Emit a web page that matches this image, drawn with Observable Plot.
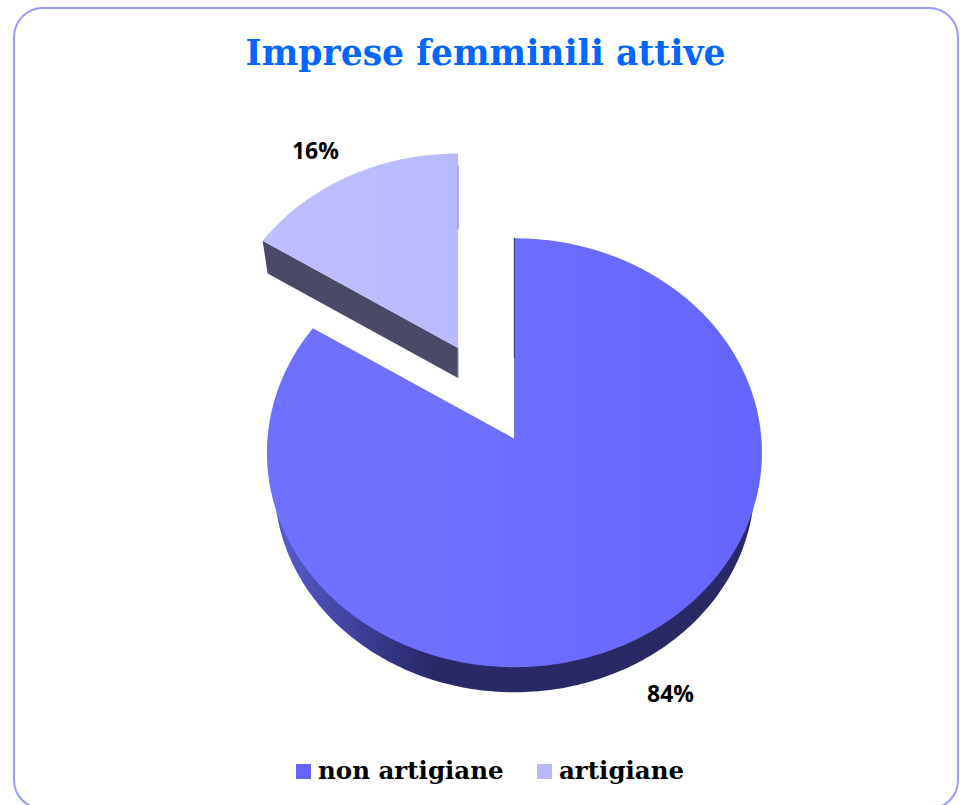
<!DOCTYPE html>
<html>
<head>
<meta charset="utf-8">
<script src="https://cdn.jsdelivr.net/npm/d3@7"></script>
<script src="https://cdn.jsdelivr.net/npm/@observablehq/plot@0.6"></script>
<style>
  html, body { margin: 0; padding: 0; background: #fff; overflow: hidden; width: 964px; height: 805px; }
  #frame { position: absolute; left: 13px; top: 7px; width: 946px; height: 803px; box-sizing: border-box;
           border: 2px solid #9999ff; border-radius: 30px; background: #fff; }
  #title { position: absolute; left: 0; right: 0; top: 22px; text-align: center; color: #0066ff;
           font: bold 34.6px "DejaVu Serif", serif; line-height: 44px; margin: 0; padding-right: 1px; white-space: nowrap; }
  #chart { position: absolute; left: -2px; top: 81px; }
  #legend { position: absolute; left: 0; right: 0; top: 747px; height: 30px; color: #000;
            font: bold 24.5px "DejaVu Serif", serif; white-space: nowrap; }
  #legend span { position: absolute; top: 0; line-height: 30px; }
  #legend i { position: absolute; width: 15px; height: 15px; top: 8px; }
</style>
</head>
<body>
<div id="frame">
  <h1 id="title">Imprese femminili attive</h1>
  <div id="chart"></div>
  <div id="legend"></div>
</div>
<script>
const categories = ["non artigiane", "artigiane"];
const shares = [84, 16];
const labels = ["84%", "16%"];
const colors = ["#6666ff", "#b8b8ff"];

const W = 946, H = 660;
const RX = 247.5, RY = 214, K = 0.0651;     // disc radii (px) and perspective strength
const CX = 502, CY = 349;                   // pie centre inside the SVG (px)
const xDomain = [-CX / RX, (W - CX) / RX];
const yDomain = [-CY / RY, (H - CY) / RY];

// project a disc point: angle clockwise from 12 o'clock, r in radii, (ox,oy) disc offset, q disc scale
function project(turn, r, ox, oy, q) {
  const t = turn * 2 * Math.PI, s = Math.sin(t) * r, c = -Math.cos(t) * r;
  const d = 1 - K * c;
  return { x: ox + q * s / d, y: oy + q * c / d };
}
function sector(from, to, ox, oy, q) {
  const pts = [project(0, 0, ox, oy, q)];
  const n = Math.ceil((to - from) * 360);
  for (let i = 0; i <= n; i++) pts.push(project(from + (to - from) * i / n, 1, ox, oy, q));
  pts.push(project(0, 0, ox, oy, q));
  return pts;
}

const mainShare = shares[0] / 100, wedgeShare = shares[1] / 100;
// The big slice runs clockwise from 12 o'clock, the small one closes the circle.
const mainTop = sector(0, mainShare, 0, 0, 1);
const mainBase = sector(0, mainShare, 0, 32 / RY, 0.97);
const wx = -56.5 / RX, wy = -91 / RY, wq = 0.97;
const wedgeTop = sector(mainShare, 1, wx, wy, wq);
const pA = project(0, 0, wx, wy, wq);
const pL = project(mainShare, 1, wx, wy, wq);
const bx = wx, by = wy + 30 / RY, bq = 0.945;
const pA2 = project(0, 0, bx, by, bq);
const pL2 = project(mainShare, 1, bx, by, bq);
const wedgeWall = [pA, pL, pL2, pA2, pA];

const mainEdge = [project(0, 1, 0, 0, 1), project(0, 0.39, 0, 0, 1)];
const wedgeEdge = [project(0, 0.93, wx, wy, wq), project(0, 0.6, wx, wy, wq)];
const wedgeEdge2 = [pA, pA2];

const label84 = [{ ...project(mainShare / 2, 1.30, 0, 0, 1), text: labels[0] }];
const label16 = [{ ...project(mainShare + wedgeShare / 2, 1.25, wx, wy, wq), text: labels[1] }];

function defs() {
  const d = d3.create("svg:defs");
  const grad = (id, stops, x2 = 1, y2 = 0) => {
    const g = d.append("linearGradient").attr("id", id).attr("x1", 0).attr("y1", 0).attr("x2", x2).attr("y2", y2);
    stops.forEach(([o, c]) => g.append("stop").attr("offset", o).attr("stop-color", c));
  };
  grad("mainTopFill", [[0, "#7070ff"], [0.35, "#7070ff"], [1, "#6565ff"]], 1, 0);
  grad("wedgeTopFill", [[0, "#bfbfff"], [1, "#b9b9ff"]], 1, 0);
  grad("wallFill", [[0, "#5a5dd0"], [0.1, "#4a4cb0"], [0.22, "#36388a"], [0.33, "#292966"], [1, "#292966"]], 1, 0);
  return d.node();
}

const poly = (pts, fill) => Plot.line(pts, { x: "x", y: "y", fill, stroke: "none", curve: "linear" });
const labelStyle = { x: "x", y: "y", text: "text", fill: "#000", fontSize: 23, fontWeight: 700, fontFamily: "'Open Sans', sans-serif" };

const chart = Plot.plot({
  width: W, height: H, margin: 0,
  x: { domain: xDomain, range: [0, W], axis: null },
  y: { domain: yDomain, range: [0, H], axis: null },
  style: { background: "transparent", overflow: "visible" },
  marks: [
    defs,
    poly(wedgeWall, "#4a4a68"),
    poly(wedgeTop, "url(#wedgeTopFill)"),
    Plot.line(wedgeEdge, { x: "x", y: "y", stroke: "#9a9ade", strokeWidth: 1.5 }),
    Plot.line(wedgeEdge2, { x: "x", y: "y", stroke: "#a0a0d0", strokeWidth: 1 }),
    poly(mainBase, "url(#wallFill)"),
    poly(mainTop, "url(#mainTopFill)"),
    Plot.line(mainEdge, { x: "x", y: "y", stroke: "#3c3c90", strokeWidth: 1.2 }),
    Plot.text(label84, { ...labelStyle, dx: -11, dy: -7 }),
    Plot.text(label16, { ...labelStyle, dx: -8, dy: 16 })
  ]
});
document.getElementById("chart").appendChild(chart);

const legend = document.getElementById("legend");
const swatchX = [281, 522], textX = [303, 544];
categories.forEach((c, i) => {
  const sw = document.createElement("i");
  sw.style.left = swatchX[i] + "px"; sw.style.background = colors[i];
  const t = document.createElement("span");
  t.style.left = textX[i] + "px"; t.textContent = c;
  legend.append(sw, t);
});
</script>
</body>
</html>
